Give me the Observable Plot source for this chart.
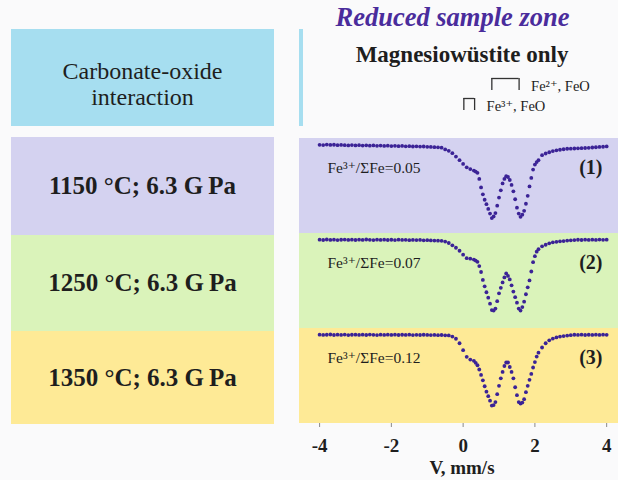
<!DOCTYPE html>
<html>
<head>
<meta charset="utf-8">
<script src="https://cdn.jsdelivr.net/npm/d3@7"></script>
<script src="https://cdn.jsdelivr.net/npm/@observablehq/plot@0.6"></script>
<style>
  html, body { margin: 0; padding: 0; background: #fafafb; }
  #fig { position: relative; width: 618px; height: 480px; overflow: hidden;
         font-family: "Liberation Serif", "DejaVu Serif", serif; color: #1e1e1e; }
  .abs { position: absolute; }
  .cond { position: absolute; left: 11px; width: 263px; display: flex;
          align-items: center; justify-content: center;
          font-weight: bold; font-size: 25px; }
  #title { left: 300px; width: 305px; top: 3px; line-height: 28px; text-align: center;
           font-style: italic; font-weight: bold; font-size: 26.5px; color: #4a2c9c; }
  #phase { left: 312px; width: 300px; top: 41px; line-height: 28px; text-align: center;
           font-weight: bold; font-size: 23px; }
  #head { left: 11px; top: 29px; width: 263px; height: 97px; background: #a6def0; }
  #head div { position: absolute; left: 0; width: 100%; top: 29px; line-height: 26px;
              text-align: center; font-size: 24px; }
  #mark { left: 299px; top: 29px; width: 4px; height: 97px; background: #a6def0; }
  #legend { left: 299px; top: 70px; }
  #spectra { left: 299px; top: 137px; }
  #xlabel { left: 362px; width: 200px; top: 458px; height: 20px; line-height: 20px; text-align: center;
            font-weight: bold; font-size: 19px; }
  #spectra g[aria-label^="x-axis"] line,
  #spectra g[aria-label="x-axis tick"] path { stroke: #8a8a8a; }
</style>
</head>
<body>
<div id="fig">
  <div id="title" class="abs">Reduced sample zone</div>
  <div id="phase" class="abs">Magnesiowüstite only</div>
  <div id="head" class="abs"><div>Carbonate-oxide<br>interaction</div></div>
  <div id="mark" class="abs"></div>
  <div id="conds"></div>
  <div id="legend" class="abs"></div>
  <div id="spectra" class="abs"></div>
  <div id="xlabel" class="abs"></div>
</div>
<script>
// Synthesis conditions, one row per sample
const sampleIds = ["(1)", "(2)", "(3)"];
const conditions = ["1150 °C; 6.3 G\u2009Pa", "1250 °C; 6.3 G\u2009Pa", "1350 °C; 6.3 G\u2009Pa"];
const bandColors = ["#d4d2f0", "#daf3ba", "#feea96"];
const fe3Ratios = [0.05, 0.07, 0.12];

// Doublet positions (mm/s) shown in the legend
const doubletIon = ["Fe²⁺", "Fe³⁺"];
const doubletLeft = [0.80, 0.02];
const doubletRight = [1.56, 0.32];
const doubletPhase = ["FeO", "FeO"];

// Velocity channels (mm/s)
const velocity = [
  -4.0, -3.9, -3.8, -3.7, -3.6, -3.5, -3.4, -3.3, -3.2, -3.1,
  -3.0, -2.9, -2.8, -2.7, -2.6, -2.5, -2.4, -2.3, -2.2, -2.1,
  -2.0, -1.9, -1.8, -1.7, -1.6, -1.5, -1.4, -1.3, -1.2, -1.1,
  -1.0, -0.9, -0.8, -0.7, -0.6, -0.5, -0.4, -0.3, -0.2, -0.1,
  0.0, 0.1, 0.2,
  0.30, 0.35, 0.40, 0.45, 0.50, 0.55, 0.60, 0.65, 0.70, 0.75,
  0.80, 0.85, 0.90, 0.95, 1.00, 1.05, 1.10, 1.15, 1.20, 1.25,
  1.30, 1.35, 1.40, 1.45, 1.50, 1.55, 1.60, 1.65, 1.70, 1.75,
  1.80, 1.85, 1.90, 1.95, 2.00, 2.05, 2.10,
  2.2, 2.3, 2.4, 2.5, 2.6, 2.7, 2.8, 2.9, 3.0, 3.1,
  3.2, 3.3, 3.4, 3.5, 3.6, 3.7, 3.8, 3.9, 4.0
];

// Relative transmission (%) of each sample
const spectrum1 = [
  100.00, 99.96, 100.04, 99.98, 100.01, 99.94, 99.99, 99.95, 99.91, 99.96,
  99.90, 99.94, 99.89, 99.92, 99.87, 99.90, 99.84, 99.88, 99.83, 99.86,
  99.80, 99.84, 99.79, 99.82, 99.77, 99.79, 99.74, 99.77, 99.72, 99.74,
  99.69, 99.67, 99.63, 99.60, 99.55, 99.28, 99.06, 98.69, 98.14, 97.58,
  96.98, 96.45, 96.17,
  95.94, 95.78, 95.58, 94.61, 93.28, 92.19, 91.33, 90.63, 89.88, 89.14,
  88.44, 88.70, 89.22, 90.39, 91.67, 92.81, 93.91, 94.61, 95.05, 94.92,
  94.45, 93.67, 92.66, 91.41, 90.08, 89.14, 88.64, 88.98, 89.58, 90.70,
  91.95, 93.44, 94.77, 96.09, 96.88, 97.27, 97.58,
  98.36, 98.63, 98.83, 99.02, 99.13, 99.22, 99.30, 99.38, 99.39, 99.42,
  99.45, 99.47, 99.50, 99.53, 99.58, 99.62, 99.67, 99.70, 99.75
];
const spectrum2 = [
  100.02, 99.97, 100.05, 99.99, 100.03, 99.96, 100.01, 100.04, 99.98, 100.02,
  99.97, 100.03, 99.99, 100.05, 100.00, 99.96, 100.02, 99.98, 100.03, 99.97,
  100.01, 99.96, 100.02, 99.98, 100.00, 99.95, 99.99, 99.96, 99.98, 99.93,
  99.95, 99.91, 99.89, 99.86, 99.84, 99.72, 99.50, 99.13, 98.75, 98.28,
  97.66, 97.11, 97.03,
  96.88, 96.72, 96.52, 95.86, 94.92, 93.67, 92.66, 91.72, 90.86, 89.92,
  88.91, 88.83, 89.14, 90.31, 91.56, 92.42, 93.28, 94.06, 94.69, 94.30,
  93.75, 92.81, 91.83, 90.94, 90.08, 89.14, 88.83, 89.38, 90.23, 91.41,
  92.50, 93.59, 95.00, 96.48, 97.42, 98.13, 98.52,
  98.98, 99.22, 99.45, 99.61, 99.69, 99.77, 99.81, 99.88, 99.93, 99.96,
  100.01, 99.97, 100.03, 99.99, 100.02, 99.98, 100.04, 100.00, 100.02
];
const spectrum3 = [
  100.03, 99.98, 100.01, 100.05, 99.97, 100.02, 99.99, 100.04, 99.96, 100.01,
  100.03, 99.98, 100.02, 99.97, 100.04, 100.00, 99.96, 100.02, 99.99, 100.03,
  99.98, 100.02, 99.97, 100.01, 99.99, 100.03, 99.96, 100.00, 99.97, 100.01,
  99.98, 99.96, 99.99, 99.95, 99.97, 99.93, 99.90, 99.72, 99.38, 98.67,
  97.58, 96.52, 96.09,
  95.89, 95.58, 95.20, 94.53, 93.67, 92.81, 91.88, 91.02, 90.31, 89.61,
  88.83, 88.91, 89.38, 90.63, 91.95, 93.13, 94.14, 95.08, 95.63, 95.63,
  94.92, 94.14, 93.13, 91.72, 90.47, 89.38, 89.14, 89.30, 89.84, 90.94,
  91.95, 92.89, 93.83, 94.84, 95.70, 96.56, 97.19,
  98.00, 98.67, 99.14, 99.41, 99.59, 99.72, 99.81, 99.89, 99.95, 100.01,
  99.98, 100.02, 99.97, 100.01, 99.99, 100.03, 99.98, 100.02, 100.00
];
const spectra = [spectrum1, spectrum2, spectrum3];

const xTicks = [-4, -2, 0, 2, 4];
const xLabel = "V, mm/s";

spectra.forEach((s, k) => {
  if (s.length !== velocity.length) throw new Error(`spectrum${k + 1}: ${s.length} values, ${velocity.length} channels`);
});

// Left column: condition boxes
const condTops = [137, 235, 331];
const condHeights = [98, 96, 93];
const condsEl = document.getElementById("conds");
conditions.forEach((c, i) => {
  const d = document.createElement("div");
  d.className = "cond";
  d.style.top = condTops[i] + "px";
  d.style.height = condHeights[i] + "px";
  d.style.background = bandColors[i];
  d.textContent = c;
  condsEl.appendChild(d);
});

// Shared horizontal scale
const xScale = {domain: [-4.56, 4.33], ticks: xTicks, tickFormat: d => String(d)};
const serif = "Liberation Serif, DejaVu Serif, serif";

// Legend: doublet brackets (two legs spanning the band, a bar along its top)
const doublets = doubletIon.map((ion, i) => ({ion, left: doubletLeft[i], right: doubletRight[i], phase: doubletPhase[i]}));
const legs = doublets.flatMap(d => [{ion: d.ion, v: d.left}, {ion: d.ion, v: d.right}]);
const legend = Plot.plot({
  width: 319, height: 45,
  marginLeft: 0, marginRight: 0, marginTop: 0, marginBottom: 0,
  style: {fontFamily: serif, fontSize: "14px", background: "transparent", color: "#1e1e1e", overflow: "visible"},
  x: {...xScale, axis: null},
  y: {type: "band", domain: doubletIon, range: [8, 40], paddingInner: 0.4, paddingOuter: 0, axis: null},
  marks: [
    Plot.tickX(legs, {x: "v", y: "ion", stroke: "#333", strokeWidth: 1.3}),
    Plot.ruleY(doublets, {y: "ion", x1: "left", x2: "right", dy: -6, stroke: "#333", strokeWidth: 1.3}),
    Plot.text(doublets, {x: "right", y: "ion", text: d => `${d.ion}, ${d.phase}`, dx: 12, dy: 2, textAnchor: "start", fontSize: 14.5})
  ]
});
document.getElementById("legend").appendChild(legend);

// Spectra, one facet per sample
const points = spectra.flatMap((s, k) => s.map((t, i) => ({
  sample: sampleIds[k], v: velocity[i], t, band: bandColors[k], ratio: fe3Ratios[k]
})));

const chart = Plot.plot({
  width: 319, height: 317,
  marginLeft: 0, marginRight: 0, marginTop: 0, marginBottom: 30,
  style: {fontFamily: serif, fontSize: "19px", fontWeight: "bold", background: "transparent", color: "#1e1e1e", overflow: "visible"},
  facet: {data: points, y: "sample", marginRight: 0, marginTop: 0},
  fy: {domain: sampleIds, padding: 0, axis: null},
  x: {...xScale, tickSize: 4, tickPadding: 11, label: null},
  y: {domain: [86.0, 101.0], axis: null},
  color: {type: "identity"},
  marks: [
    Plot.rect(points, Plot.selectFirst({fill: "band"})),
    Plot.dot(points, {x: "v", y: "t", r: 1.9, fill: "#3b2396", stroke: "none"}),
    Plot.text(points, Plot.selectFirst({
      text: d => `Fe³⁺/ΣFe=${d.ratio.toFixed(2)}`,
      frameAnchor: "left", dx: 28, dy: -18, fontSize: 15.5, fontWeight: "normal", fill: "#1e1e1e"
    })),
    Plot.text(points, Plot.selectFirst({
      text: "sample", frameAnchor: "right", dx: -16, dy: -18, fontSize: 20, fontWeight: "bold", fill: "#1e1e1e"
    }))
  ]
});
document.getElementById("spectra").appendChild(chart);
document.getElementById("xlabel").textContent = xLabel;
</script>
</body>
</html>
